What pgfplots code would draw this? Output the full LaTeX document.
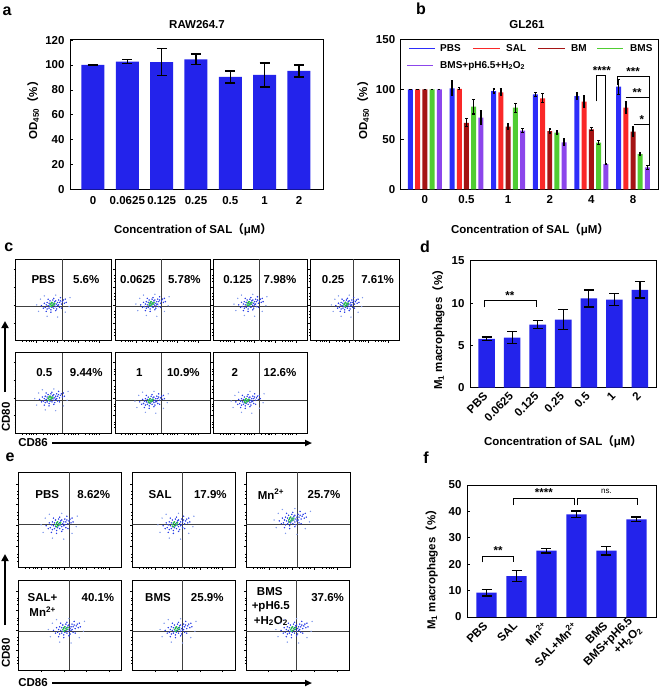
\documentclass[border=0pt]{standalone}
\usepackage{pgfplots}
\pgfplotsset{compat=1.18}
\usepackage{pgfplotstable}
\usepackage{fontspec}
\setmainfont{Liberation Sans}
\newfontfamily\cjk{Noto Sans CJK SC}
\usetikzlibrary{arrows.meta}

\definecolor{barblue}{RGB}{35,35,235}
\definecolor{cPBS}{RGB}{45,45,250}
\definecolor{cSAL}{RGB}{250,40,40}
\definecolor{cBM}{RGB}{165,20,20}
\definecolor{cBMS}{RGB}{80,205,50}
\definecolor{cMIX}{RGB}{140,70,235}
\definecolor{flowblue}{RGB}{40,60,230}
\definecolor{flowlight}{RGB}{130,155,235}
\definecolor{flowgreen}{RGB}{40,200,60}

\newcommand{\F}{\fontsize{11.5}{13}\selectfont\bfseries}
\newcommand{\Fl}{\fontsize{10}{12}\selectfont\bfseries}
\newcommand{\Fs}{\fontsize{8}{9}\selectfont}
\newcommand{\Fp}{\fontsize{16}{18}\selectfont\bfseries}
\newcommand{\lp}{{\cjk （}}
\newcommand{\rp}{{\cjk ）}}

\pgfplotstableread{
x y e
0 100 0
1 102.7 1.5
2 102.4 11
3 104.5 4.3
4 90.4 4.8
5 92 9.7
6 95.2 4.9
}\dataA

\pgfplotstableread{
x PBS ePBS SAL eSAL BM eBM BMS eBMS MIX eMIX
0 100 0 100 0 100 0 100 0 100 0
1 101 7.5 100.5 1 66.5 4 82.6 7.3 71.6 7
2 98.3 2 97 3.3 62.6 3 81.6 4.5 58.6 2
3 95 2 91 4.5 58.3 2 56.6 2 47 3.3
4 93.3 3 87.6 6 60 1.5 46.6 2 25.3 0.8
5 102.6 7.5 81.6 6 57.6 5 35.3 1 22 2
}\dataB

\pgfplotstableread{
x y e
0 5.77 0.22
1 5.93 0.7
2 7.47 0.5
3 8.06 1.2
4 10.55 1.0
5 10.43 0.7
6 11.58 0.97
}\dataD

\pgfplotstableread{
x y e
0 9.2 1.2
1 15.5 2.1
2 25.1 0.8
3 38.9 1.2
4 25.1 1.6
5 37.0 0.9
}\dataF

\pgfplotstableread{
dx dy
-0.09 -0.03
-0.08 0.00
-0.07 0.03
-0.07 -0.05
-0.06 -0.01
-0.05 0.02
-0.05 -0.04
-0.04 0.05
-0.04 -0.02
-0.03 0.01
-0.03 -0.06
-0.02 0.03
-0.02 -0.03
-0.01 0.06
-0.01 -0.01
0.00 0.02
0.00 -0.04
0.01 0.04
0.01 0.00
0.02 -0.02
0.02 0.05
0.03 0.01
0.03 -0.05
0.04 0.03
0.04 -0.01
0.05 0.06
0.05 0.00
0.06 0.03
0.06 -0.03
0.07 0.05
0.08 0.01
0.09 0.04
0.10 0.06
0.11 0.02
-0.11 -0.04
-0.10 0.02
-0.06 0.07
0.00 0.08
0.02 -0.07
-0.03 -0.09
0.08 -0.04
0.12 0.07
-0.13 -0.01
0.07 0.09
-0.08 -0.08
0.13 0.03
}\cloudB

\pgfplotstableread{
dx dy
-0.04 0.00
-0.03 0.02
-0.02 -0.01
-0.01 0.01
0.00 0.00
-0.02 0.03
0.01 0.02
-0.03 -0.02
}\cloudG

\pgfplotstableread{
dx dy
-0.16 -0.08
0.17 0.09
-0.07 -0.14
0.04 -0.15
0.16 -0.02
-0.14 0.07
-0.10 0.11
0.12 -0.09
0.02 0.12
-0.18 0.00
}\cloudL

\pgfplotsset{
 barax/.style={scale only axis, anchor=north west,
   axis line style={line width=0.9pt},
   /pgf/number format/assume math mode=true,
   tick label style={font=\F},
   tick align=inside, major tick length=3pt, tick style={line width=0.8pt, black},
   xtick pos=bottom, ytick pos=left,
   yticklabel style={xshift=-2pt},
   xticklabel style={yshift=-3pt},
 },
 errs/.style={/pgfplots/error bars/y dir=both, /pgfplots/error bars/y explicit,
   /pgfplots/error bars/error bar style={line width=1.3pt, black},
   /pgfplots/error bars/error mark options={rotate=90, mark size=5pt, line width=1.3pt, black}},
 errsb/.style={/pgfplots/error bars/y dir=both, /pgfplots/error bars/y explicit,
   /pgfplots/error bars/error bar style={line width=1.4pt, black},
   /pgfplots/error bars/error mark options={rotate=90, mark size=1.2pt, line width=1.2pt, black}},
 flowax/.style={scale only axis, anchor=north west, xmin=0, xmax=1, ymin=0, ymax=1,
   axis line style={line width=1pt},
   xtick={0.22,0.44,0.66,0.88}, ytick={0.22,0.44,0.66,0.88},
   minor xtick={0.07,0.11,0.14,0.16,0.18,0.29,0.33,0.36,0.38,0.40,0.51,0.55,0.58,0.60,0.62,0.73,0.77,0.80,0.82,0.84},
   minor ytick={0.07,0.11,0.14,0.29,0.33,0.36,0.51,0.55,0.58,0.73,0.77,0.80},
   xticklabels={}, yticklabels={}, tick align=outside,
   major tick length=2pt, minor tick length=1.2pt, tick style={black, line width=0.5pt},
   xtick pos=bottom, ytick pos=left},
}

\newcommand{\flow}[8]{%
\begin{axis}[flowax, at={(#1pt,-#2pt)}, width=#3pt, height=#4pt]
\addplot[only marks, mark=*, mark size=0.45pt, color=flowlight] table[x expr=\thisrow{dx}+#5, y expr=\thisrow{dy}+#6]{\cloudL};
\addplot[only marks, mark=*, mark size=0.5pt, color=flowblue] table[x expr=\thisrow{dx}+#5, y expr=\thisrow{dy}+#6]{\cloudB};
\addplot[only marks, mark=*, mark size=0.6pt, color=flowgreen] table[x expr=\thisrow{dx}+#5, y expr=\thisrow{dy}+#6]{\cloudG};
\draw[black!75, line width=0.7pt] (axis cs:0.49,0) -- (axis cs:0.49,1);
\draw[black!75, line width=0.7pt] (axis cs:0,#7) -- (axis cs:1,#7);
#8
\end{axis}}

\begin{document}
\begin{tikzpicture}
\path[use as bounding box] (0,0) rectangle (661pt,-689pt);

% ---------- panel a ----------
\node[font=\Fp] at (7pt,-11pt) {a};
\node[font=\F] at (197pt,-25pt) {RAW264.7};
\begin{axis}[barax, at={(70pt,-39.3pt)}, width=253pt, height=150.4pt,
  xmin=-0.67, xmax=6.7, ymin=0, ymax=120.6, ytick={0,20,...,120},
  xtick={0,...,6}, xticklabels={0,0.0625,0.125,0.25,0.5,1,2}]
\addplot[ybar, bar width=0.67, bar shift=0, fill=barblue, draw=none, errs]
  table[x=x, y=y, y error=e]{\dataA};
\end{axis}
\node[font=\F, rotate=90] at (33pt,-107.5pt) {OD\textsubscript{450}\lp\%\rp};
\node[font=\F] at (193pt,-230pt) {Concentration of SAL\lp μM\rp};

% ---------- panel b ----------
\node[font=\Fp] at (421pt,-9pt) {b};
\node[font=\F] at (527pt,-25pt) {GL261};
\begin{axis}[barax, at={(400.7pt,-39.3pt)}, width=257.3pt, height=150pt,
  xmin=-0.58, xmax=5.6, ymin=0, ymax=150, ytick={0,50,100,150},
  xtick={0,...,5}, xticklabels={0,0.5,1,2,4,8}]
\addplot[ybar, bar width=0.12, bar shift=0, fill=cPBS, draw=none, errsb]
  table[x expr=\thisrow{x}-0.346, y=PBS, y error=ePBS]{\dataB};
\addplot[ybar, bar width=0.12, bar shift=0, fill=cSAL, draw=none, errsb]
  table[x expr=\thisrow{x}-0.173, y=SAL, y error=eSAL]{\dataB};
\addplot[ybar, bar width=0.12, bar shift=0, fill=cBM, draw=none, errsb]
  table[x expr=\thisrow{x}, y=BM, y error=eBM]{\dataB};
\addplot[ybar, bar width=0.12, bar shift=0, fill=cBMS, draw=none, errsb]
  table[x expr=\thisrow{x}+0.173, y=BMS, y error=eBMS]{\dataB};
\addplot[ybar, bar width=0.12, bar shift=0, fill=cMIX, draw=none, errsb]
  table[x expr=\thisrow{x}+0.346, y=MIX, y error=eMIX]{\dataB};
% significance
\draw[black, line width=1pt] (axis cs:4.12,88) -- (axis cs:4.12,114) -- (axis cs:4.35,114) -- (axis cs:4.35,26);
\node[font=\F, anchor=south] at (axis cs:4.25,111) {****};
\draw[black, line width=1pt] (axis cs:4.63,104) -- (axis cs:4.63,113) -- (axis cs:5.39,113) -- (axis cs:5.39,23);
\draw[black, line width=1pt] (axis cs:4.82,92) -- (axis cs:5.39,92);
\draw[black, line width=1pt] (axis cs:5.02,65) -- (axis cs:5.39,65);
\node[font=\F, anchor=south] at (axis cs:5.0,110) {***};
\node[font=\F, anchor=south] at (axis cs:5.1,89) {**};
\node[font=\F, anchor=south] at (axis cs:5.21,62) {*};
\end{axis}
% legend of panel b
\draw[cPBS, line width=1.5pt] (409pt,-48.3pt) -- (435pt,-48.3pt);
\node[font=\Fl, anchor=west, inner sep=0pt] at (440pt,-48.3pt) {PBS};
\draw[cSAL, line width=1.5pt] (473pt,-48.3pt) -- (500pt,-48.3pt);
\node[font=\Fl, anchor=west, inner sep=0pt] at (506pt,-48.3pt) {SAL};
\draw[cBM, line width=1.5pt] (538pt,-48.3pt) -- (565pt,-48.3pt);
\node[font=\Fl, anchor=west, inner sep=0pt] at (571pt,-48.3pt) {BM};
\draw[cBMS, line width=1.5pt] (597pt,-48.3pt) -- (623pt,-48.3pt);
\node[font=\Fl, anchor=west, inner sep=0pt] at (630pt,-48.3pt) {BMS};
\draw[cMIX, line width=1.5pt] (407pt,-65.7pt) -- (433pt,-65.7pt);
\node[font=\Fl, anchor=west, inner sep=0pt] at (440pt,-65.7pt) {BMS+pH6.5+H\textsubscript{2}O\textsubscript{2}};
\node[font=\F, rotate=90] at (363pt,-107.5pt) {OD\textsubscript{450}\lp\%\rp};
\node[font=\F] at (530pt,-230pt) {Concentration of SAL\lp μM\rp};

% ---------- panel c ----------
\node[font=\Fp] at (8.7pt,-247pt) {c};
\flow{15.7}{259.3}{95.3}{81.4}{0.40}{0.44}{0.42}{\node[font=\F] at (rel axis cs:0.29,0.75){PBS}; \node[font=\F] at (rel axis cs:0.74,0.75){5.6\%};}
\flow{115}{259.3}{95}{81.4}{0.40}{0.45}{0.42}{\node[font=\F] at (rel axis cs:0.24,0.75){0.0625}; \node[font=\F] at (rel axis cs:0.73,0.75){5.78\%};}
\flow{213.3}{259.3}{94}{81.4}{0.40}{0.45}{0.42}{\node[font=\F] at (rel axis cs:0.26,0.75){0.125}; \node[font=\F] at (rel axis cs:0.71,0.75){7.98\%};}
\flow{310}{259.3}{89}{81.4}{0.42}{0.44}{0.42}{\node[font=\F] at (rel axis cs:0.26,0.75){0.25}; \node[font=\F] at (rel axis cs:0.76,0.75){7.61\%};}
\flow{15.7}{352.7}{95.3}{80.6}{0.38}{0.43}{0.41}{\node[font=\F] at (rel axis cs:0.30,0.76){0.5}; \node[font=\F] at (rel axis cs:0.74,0.76){9.44\%};}
\flow{115}{352.7}{95}{80.6}{0.39}{0.40}{0.41}{\node[font=\F] at (rel axis cs:0.255,0.76){1}; \node[font=\F] at (rel axis cs:0.72,0.76){10.9\%};}
\flow{213.3}{352.7}{94}{80.6}{0.37}{0.40}{0.41}{\node[font=\F] at (rel axis cs:0.23,0.76){2}; \node[font=\F] at (rel axis cs:0.71,0.76){12.6\%};}
\draw[line width=2.4pt, -{Triangle[length=7pt,width=7pt]}] (5pt,-392pt) -- (5pt,-321pt);
\node[font=\F, rotate=90] at (6pt,-417pt) {CD80};
\node[font=\F] at (33pt,-443pt) {CD86};
\draw[line width=2.2pt, -{Triangle[length=7pt,width=6pt]}] (52pt,-443pt) -- (312pt,-443pt);

% ---------- panel d ----------
\node[font=\Fp] at (425pt,-247pt) {d};
\begin{axis}[barax, at={(470pt,-260pt)}, width=186pt, height=127.7pt,
  xmin=-0.65, xmax=6.63, ymin=0, ymax=15.1, ytick={0,5,10,15},
  xtick={0,...,6}, xticklabels={PBS,0.0625,0.125,0.25,0.5,1,2},
  xticklabel style={rotate=45, anchor=east, yshift=-2pt}]
\addplot[ybar, bar width=0.65, bar shift=0, fill=barblue, draw=none, errs]
  table[x=x, y=y, y error=e]{\dataD};
\draw[black, line width=1pt] (axis cs:-0.1,9.5) -- (axis cs:-0.1,10.28) -- (axis cs:1.95,10.28) -- (axis cs:1.95,9.5);
\node[font=\F, anchor=south] at (axis cs:0.91,10.0) {**};
\end{axis}
\node[font=\F, rotate=90] at (438.3pt,-327pt) {M\textsubscript{1} macrophages\lp\%\rp};
\node[font=\F] at (563pt,-441.7pt) {Concentration of SAL\lp μM\rp};

% ---------- panel e ----------
\node[font=\Fp] at (10pt,-457pt) {e};
\flow{18.3}{472.3}{103.4}{95.4}{0.40}{0.45}{0.45}{\node[font=\F] at (rel axis cs:0.28,0.77){PBS}; \node[font=\F] at (rel axis cs:0.73,0.77){8.62\%};}
\flow{132.3}{472.3}{102.7}{95.4}{0.43}{0.45}{0.45}{\node[font=\F] at (rel axis cs:0.27,0.77){SAL}; \node[font=\F] at (rel axis cs:0.76,0.77){17.9\%};}
\flow{246}{472.3}{104}{95.4}{0.45}{0.50}{0.45}{\node[font=\F] at (rel axis cs:0.24,0.77){Mn\textsuperscript{2+}}; \node[font=\F] at (rel axis cs:0.75,0.77){25.7\%};}
\flow{18.3}{580}{103.4}{90}{0.47}{0.45}{0.43}{\node[font=\F] at (rel axis cs:0.235,0.81){SAL+}; \node[font=\F] at (rel axis cs:0.235,0.65){Mn\textsuperscript{2+}}; \node[font=\F] at (rel axis cs:0.77,0.81){40.1\%};}
\flow{132.3}{580}{102.7}{90}{0.45}{0.45}{0.43}{\node[font=\F] at (rel axis cs:0.25,0.81){BMS}; \node[font=\F] at (rel axis cs:0.73,0.81){25.9\%};}
\flow{246}{580}{103.3}{90}{0.47}{0.45}{0.425}{\node[font=\F] at (rel axis cs:0.23,0.87){BMS}; \node[font=\F] at (rel axis cs:0.24,0.70){+pH6.5}; \node[font=\F] at (rel axis cs:0.24,0.545){+H\textsubscript{2}O\textsubscript{2}}; \node[font=\F] at (rel axis cs:0.79,0.81){37.6\%};}
\draw[line width=2.4pt, -{Triangle[length=7pt,width=7pt]}] (5pt,-625pt) -- (5pt,-554pt);
\node[font=\F, rotate=90] at (6pt,-653pt) {CD80};
\node[font=\F] at (33pt,-683pt) {CD86};
\draw[line width=2.2pt, -{Triangle[length=7pt,width=6pt]}] (52pt,-683pt) -- (312pt,-683pt);

% ---------- panel f ----------
\node[font=\Fp] at (426pt,-458pt) {f};
\begin{axis}[barax, at={(467pt,-485pt)}, width=189pt, height=132pt,
  xmin=-0.65, xmax=5.65, ymin=0, ymax=50, ytick={0,10,...,50},
  xtick={0,...,5},
  xticklabels={PBS,SAL,Mn\textsuperscript{2+},SAL+Mn\textsuperscript{2+},BMS,{BMS+pH6.5\\+H\textsubscript{2}O\textsubscript{2}}},
  xticklabel style={rotate=45, anchor=east, align=right, yshift=-2pt}]
\addplot[ybar, bar width=0.67, bar shift=0, fill=barblue, draw=none, errs]
  table[x=x, y=y, y error=e]{\dataF};
\draw[black, line width=1pt] (axis cs:-0.13,20.7) -- (axis cs:-0.13,22.9) -- (axis cs:0.91,22.9) -- (axis cs:0.91,20.7);
\node[font=\F, anchor=south] at (axis cs:0.39,22.3) {**};
\draw[black, line width=1pt] (axis cs:0.91,42.4) -- (axis cs:0.91,45) -- (axis cs:2.94,45) -- (axis cs:2.94,42.4);
\node[font=\F, anchor=south] at (axis cs:1.91,44.4) {****};
\draw[black, line width=1pt] (axis cs:3.02,42.4) -- (axis cs:3.02,45) -- (axis cs:5.05,45) -- (axis cs:5.05,42.4);
\node[font=\Fs, anchor=south] at (axis cs:4.0,45.3) {ns.};
\end{axis}
\node[font=\F, rotate=90] at (431.7pt,-567pt) {M\textsubscript{1} macrophages\lp\%\rp};
\end{tikzpicture}
\end{document}
